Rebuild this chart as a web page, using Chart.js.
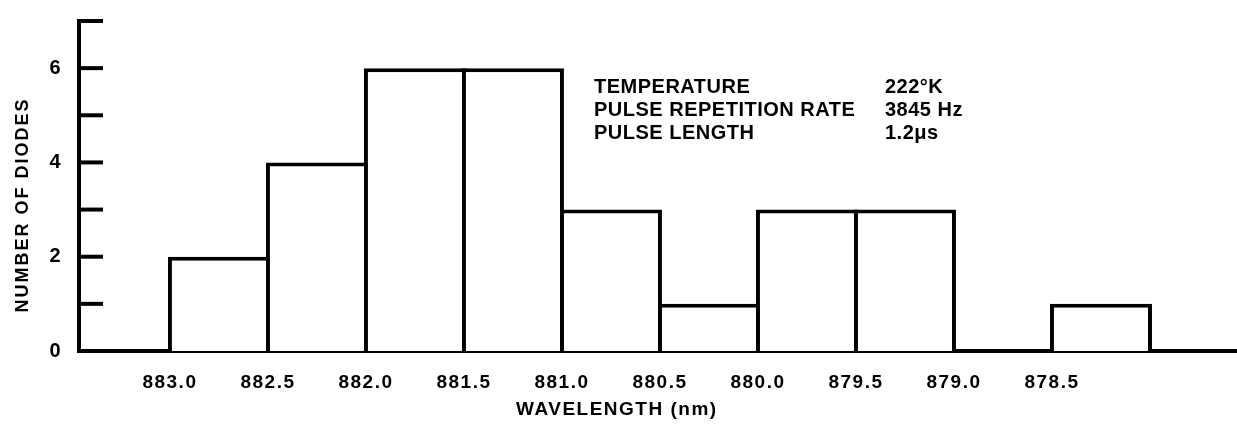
<!DOCTYPE html>
<html>
<head>
<meta charset="utf-8">
<script src="https://cdn.jsdelivr.net/npm/chart.js@4/dist/chart.umd.min.js"></script>
<style>
  body { margin: 0; background: #fff; }
</style>
</head>
<body>
<canvas id="chart" width="1237" height="429"></canvas>
<script>
// histogram bins (nm), left to right
var binStart = [883.0, 882.5, 882.0, 881.5, 881.0, 880.5, 880.0, 879.5, 879.0, 878.5];
var binEnd   = [882.5, 882.0, 881.5, 881.0, 880.5, 880.0, 879.5, 879.0, 878.5, 878.0];
var diodes   = [2, 4, 6, 6, 3, 1, 3, 3, 0, 1];

var xTickValues = [883.0, 882.5, 882.0, 881.5, 881.0, 880.5, 880.0, 879.5, 879.0, 878.5];
var yTickValues = [0, 1, 2, 3, 4, 5, 6, 7];
var yTickLabels = ['0', '', '2', '', '4', '', '6', ''];

var xTitle = 'WAVELENGTH (nm)';
var yTitle = 'NUMBER OF DIODES';
var infoLabels = ['TEMPERATURE', 'PULSE REPETITION RATE', 'PULSE LENGTH'];
var infoValues = ['222°K', '3845 Hz', '1.2μs'];

var FONT = "'Liberation Sans', Arial, sans-serif";

var points = [];
for (var i = 0; i < diodes.length; i++) {
  points.push({x: (binStart[i] + binEnd[i]) / 2, y: diodes[i]});
}

// inward ticks on the y axis, axis titles and the note block
var extras = {
  id: 'extras',
  beforeDraw: function(chart) {
    // the scan's lettering is widely spaced
    chart.ctx.letterSpacing = '1.5px';
  },
  afterDraw: function(chart) {
    var ctx = chart.ctx;
    var ys = chart.scales.y, xs = chart.scales.x;
    var left = chart.chartArea.left;
    ctx.save();
    ctx.strokeStyle = '#000';
    ctx.lineWidth = 4;
    yTickValues.forEach(function(v) {
      if (v === 0) return;
      var py = ys.getPixelForValue(v);
      ctx.beginPath();
      ctx.moveTo(left - 2, py);
      ctx.lineTo(left + 24, py);
      ctx.stroke();
    });

    ctx.fillStyle = '#000';
    ctx.textBaseline = 'middle';
    ctx.textAlign = 'center';
    ctx.font = 'bold 19px ' + FONT;
    ctx.letterSpacing = '1.5px';
    ctx.fillText(xTitle, xs.getPixelForValue(880.72), 410);

    ctx.save();
    ctx.translate(23, 205);
    ctx.rotate(-Math.PI / 2);
    ctx.font = 'bold 18px ' + FONT;
    ctx.letterSpacing = '2px';
    ctx.fillText(yTitle, 0, 0);
    ctx.restore();

    ctx.textAlign = 'left';
    ctx.textBaseline = 'alphabetic';
    ctx.font = 'bold 20px ' + FONT;
    ctx.letterSpacing = '0.5px';
    for (var i = 0; i < infoLabels.length; i++) {
      ctx.fillText(infoLabels[i], 594, 93 + i * 23);
      ctx.fillText(infoValues[i], 885, 93 + i * 23);
    }
    ctx.restore();
  }
};

new Chart(document.getElementById('chart'), {
  type: 'bar',
  data: {
    datasets: [{
      data: points,
      backgroundColor: '#fff',
      borderColor: '#000',
      borderWidth: 4,
      borderSkipped: 'start',
      barPercentage: 1 + 4 / 98,
      categoryPercentage: 1
    }]
  },
  options: {
    responsive: false,
    animation: false,
    layout: { padding: { top: 13, left: 0, right: 0, bottom: 0 } },
    plugins: { legend: { display: false }, tooltip: { enabled: false } },
    scales: {
      x: {
        type: 'linear',
        reverse: true,
        offset: false,
        min: 877.556,
        max: 883.464,
        grid: { display: false, offset: false },
        border: { display: true, color: '#000', width: 4 },
        afterBuildTicks: function(axis) {
          axis.ticks = xTickValues.map(function(v) { return {value: v}; });
        },
        afterFit: function(axis) { axis.height = 78; },
        ticks: {
          color: '#000',
          padding: 12,
          maxRotation: 0,
          autoSkip: false,
          font: { family: FONT, size: 19, weight: 'bold' },
          callback: function(v) { return Number(v).toFixed(1); }
        }
      },
      y: {
        min: 0,
        max: 7,
        grid: { display: false },
        border: { display: true, color: '#000', width: 4 },
        afterBuildTicks: function(axis) {
          axis.ticks = yTickValues.map(function(v) { return {value: v}; });
        },
        afterFit: function(axis) { axis.width = 79; },
        ticks: {
          color: '#000',
          padding: 9,
          font: { family: FONT, size: 20, weight: 'bold' },
          callback: function(v) { return yTickLabels[yTickValues.indexOf(v)]; }
        }
      }
    }
  },
  plugins: [extras]
});
</script>
</body>
</html>
